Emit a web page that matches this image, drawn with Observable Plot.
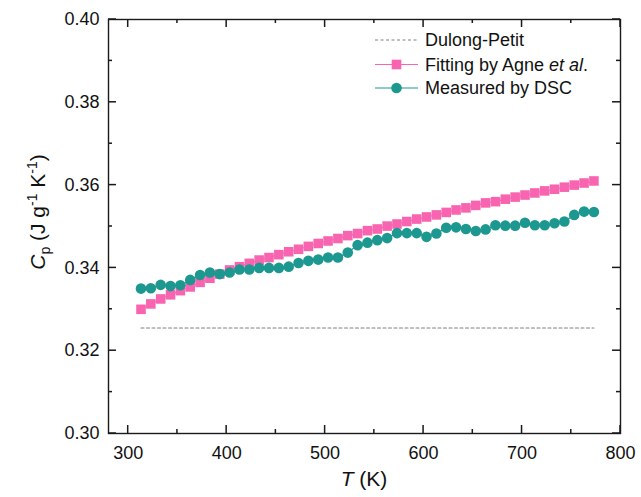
<!DOCTYPE html>
<html>
<head>
<meta charset="utf-8">
<script src="https://cdn.jsdelivr.net/npm/d3@7"></script>
<script src="https://cdn.jsdelivr.net/npm/@observablehq/plot@0.6"></script>
<style>
  html, body { margin: 0; padding: 0; background: #fff; }
  svg { display: block; }
</style>
</head>
<body>
<div id="chart"></div>
<script>
const temperature = [313, 323, 333, 343, 353, 363, 373, 383, 393, 403, 413, 423, 433, 443, 453, 463, 473, 483, 493, 503, 513, 523, 533, 543, 553, 563, 573, 583, 593, 603, 613, 623, 633, 643, 653, 663, 673, 683, 693, 703, 713, 723, 733, 743, 753, 763, 773];
const fittingAgne = [0.3300,0.3313,0.3325,0.3335,0.3345,0.3354,0.3365,0.3375,0.3385,0.3395,
  0.3403,0.3411,0.3419,0.3425,0.3432,0.3439,0.3445,0.3452,0.3459,0.3465,
  0.3471,0.3478,0.3483,0.3490,0.3494,0.3501,0.3506,0.3512,0.3518,0.3523,
  0.3528,0.3534,0.3540,0.3545,0.3551,0.3557,0.3560,0.3566,0.3571,0.3576,
  0.3581,0.3586,0.3590,0.3595,0.3600,0.3605,0.3610];
const measuredDSC = [0.3350,0.3351,0.3359,0.3356,0.3358,0.3371,0.3383,0.3389,0.3385,0.3389,
  0.3396,0.3396,0.3400,0.3400,0.3400,0.3403,0.3412,0.3417,0.3420,0.3425,
  0.3425,0.3437,0.3455,0.3461,0.3467,0.3472,0.3484,0.3484,0.3484,0.3475,
  0.3483,0.3497,0.3498,0.3494,0.3489,0.3493,0.3503,0.3502,0.3502,0.3509,
  0.3503,0.3503,0.3508,0.3512,0.3528,0.3536,0.3535];
const dulongPetit = 0.3255;
const xMajorTicks = [300, 400, 500, 600, 700, 800];
const xMinorTicks = [350, 450, 550, 650, 750];
const yMajorTicks = [0.30, 0.32, 0.34, 0.36, 0.38, 0.40];
const yMinorTicks = [0.31, 0.33, 0.35, 0.37, 0.39];
const seriesNames = ["Dulong-Petit", "Fitting by Agne et al.", "Measured by DSC"];

const pink = "#f864b0";
const teal = "#1c9891";
const font = "'Liberation Sans', Arial, Helvetica, sans-serif";

const W = 641, H = 497, ML = 108, MR = 21, MT = 19, MB = 64;
const xDomain = [280, 800];
const yDomain = [0.30, 0.40];

const fitData = temperature.map((t, i) => ({T: t, v: fittingAgne[i]}));
const dscData = temperature.map((t, i) => ({T: t, v: measuredDSC[i]}));
const dpData = [temperature[0], temperature[temperature.length - 1]].map(t => ({T: t, v: dulongPetit}));

const svg = Plot.plot({
  width: W,
  height: H,
  marginLeft: ML,
  marginRight: MR,
  marginTop: MT,
  marginBottom: MB,
  style: {fontFamily: font, background: "#fff", color: "#111"},
  x: {domain: xDomain},
  y: {domain: yDomain},
  marks: [
    Plot.axisX({ticks: xMajorTicks, tickSize: 0, tickPadding: 13, fontSize: 18, label: null, tickFormat: d => d}),
    Plot.axisY({ticks: yMajorTicks, tickSize: 0, tickPadding: 9, fontSize: 18, label: null, tickFormat: d3.format(".2f")}),
    Plot.frame({stroke: "#1a1a1a", strokeWidth: 1.4}),
    Plot.line(dpData, {x: "T", y: "v", stroke: "#808080", strokeWidth: 1.1, strokeDasharray: "3,2.5"}),
    Plot.line(fitData, {x: "T", y: "v", stroke: pink, strokeWidth: 1.2}),
    Plot.dot(fitData, {x: "T", y: "v", symbol: "square", r: 5.4, fill: pink}),
    Plot.line(dscData, {x: "T", y: "v", stroke: teal, strokeWidth: 1.2}),
    Plot.dot(dscData, {x: "T", y: "v", symbol: "circle", r: 5.3, fill: teal})
  ]
});

document.getElementById("chart").appendChild(svg);

const s = d3.select(svg);
const frameLeft = ML, frameRight = W - MR, frameTop = MT, frameBottom = H - MB;
// Plot's own scales, with an equivalent linear fallback if unavailable
const xFallback = d3.scaleLinear(xDomain, [frameLeft, frameRight]);
const yFallback = d3.scaleLinear(yDomain, [frameBottom, frameTop]);
let xScale = null, yScale = null;
try { xScale = svg.scale("x"); yScale = svg.scale("y"); } catch (e) {}
const sx = v => { const p = xScale && xScale.apply ? +xScale.apply(v) : NaN; return Number.isFinite(p) ? p : xFallback(v); };
const sy = v => { const p = yScale && yScale.apply ? +yScale.apply(v) : NaN; return Number.isFinite(p) ? p : yFallback(v); };
const tw = 1.5;

// inward ticks on all four sides
const tg = s.append("g").attr("fill", "#1a1a1a").attr("stroke", "none");
function xTick(v, len) {
  const x = sx(v);
  tg.append("rect").attr("x", x - tw / 2).attr("y", frameBottom - len).attr("width", tw).attr("height", len);
  tg.append("rect").attr("x", x - tw / 2).attr("y", frameTop).attr("width", tw).attr("height", len);
}
function yTick(v, len) {
  const y = sy(v);
  tg.append("rect").attr("x", frameLeft).attr("y", y - tw / 2).attr("width", len).attr("height", tw);
  tg.append("rect").attr("x", frameRight - len).attr("y", y - tw / 2).attr("width", len).attr("height", tw);
}
xMajorTicks.forEach(v => xTick(v, 8));
xMinorTicks.forEach(v => xTick(v, 4));
yMajorTicks.forEach(v => yTick(v, 8));
yMinorTicks.forEach(v => yTick(v, 4));

// x-axis title: T (K)
const xt = s.append("text")
  .attr("x", 364).attr("y", 486)
  .attr("text-anchor", "middle")
  .attr("font-family", font).attr("font-size", 21).attr("fill", "#111");
xt.append("tspan").attr("font-style", "italic").text("T");
xt.append("tspan").text(" (K)");

// y-axis title: Cp (J g-1 K-1)
const yt = s.append("text")
  .attr("transform", "translate(45,212) rotate(-90)")
  .attr("text-anchor", "middle")
  .attr("font-family", font).attr("font-size", 21).attr("fill", "#111");
yt.append("tspan").attr("font-style", "italic").text("C");
yt.append("tspan").attr("font-size", 14).attr("dy", 5).text("p");
yt.append("tspan").attr("dy", -5).text(" (J g");
yt.append("tspan").attr("font-size", 14).attr("dy", -8).text("-1");
yt.append("tspan").attr("dy", 8).text(" K");
yt.append("tspan").attr("font-size", 14).attr("dy", -8).text("-1");
yt.append("tspan").attr("dy", 8).text(")");

// legend
const lg = s.append("g").attr("font-family", font).attr("font-size", 18).attr("fill", "#111").attr("text-anchor", "start");
const rowsY = [40, 64.5, 88];
const x0 = 375, x1 = 418, xm = 396.5, xtext = 425;
lg.append("line").attr("x1", x0).attr("x2", x1).attr("y1", rowsY[0]).attr("y2", rowsY[0])
  .attr("stroke", "#808080").attr("stroke-width", 1.1).attr("stroke-dasharray", "3,2.5");
lg.append("text").attr("x", xtext).attr("y", rowsY[0]).attr("dy", "0.36em").text(seriesNames[0]);
lg.append("line").attr("x1", x0).attr("x2", x1).attr("y1", rowsY[1]).attr("y2", rowsY[1])
  .attr("stroke", pink).attr("stroke-width", 1.2);
lg.append("rect").attr("x", xm - 4.8).attr("y", rowsY[1] - 4.8).attr("width", 9.6).attr("height", 9.6).attr("fill", pink);
const t2 = lg.append("text").attr("x", xtext).attr("y", rowsY[1]).attr("dy", "0.36em");
t2.append("tspan").text("Fitting by Agne ");
t2.append("tspan").attr("font-style", "italic").text("et al");
t2.append("tspan").text(".");
lg.append("line").attr("x1", x0).attr("x2", x1).attr("y1", rowsY[2]).attr("y2", rowsY[2])
  .attr("stroke", teal).attr("stroke-width", 1.2);
lg.append("circle").attr("cx", xm).attr("cy", rowsY[2]).attr("r", 5.3).attr("fill", teal);
lg.append("text").attr("x", xtext).attr("y", rowsY[2]).attr("dy", "0.36em").text(seriesNames[2]);
</script>
</body>
</html>
